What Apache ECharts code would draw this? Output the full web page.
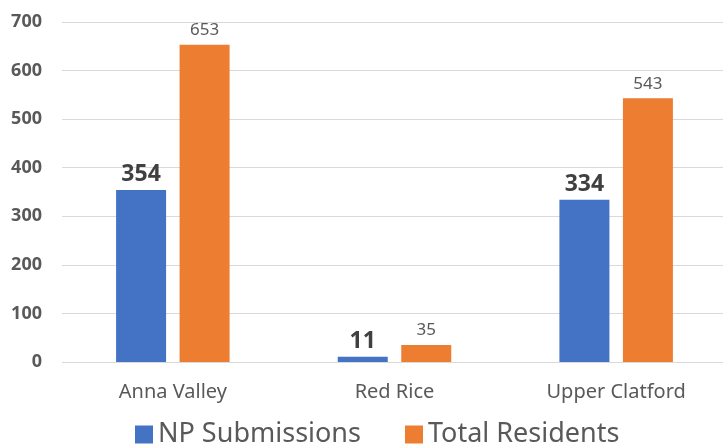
<!DOCTYPE html>
<html>
<head>
<meta charset="utf-8">
<script src="https://cdn.jsdelivr.net/npm/echarts@6/dist/echarts.min.js"></script>
<style>
  html, body { margin: 0; padding: 0; background: #fff; }
  #main { width: 723px; height: 447px; }
</style>
</head>
<body>
<div id="main"></div>
<script>
// 数据
const categories = ['Anna Valley', 'Red Rice', 'Upper Clatford'];
const npSubmissions = [354, 11, 334];
const totalResidents = [653, 35, 543];
const yTicks = [0, 100, 200, 300, 400, 500, 600, 700];

const fontFamily = '"Noto Sans", "Open Sans", sans-serif';

var myChart = echarts.init(document.getElementById('main'));

var option = {
    animation: false,
    textStyle: { fontFamily: fontFamily },
    grid: {
        left: 62,
        right: -4,
        top: 22,
        bottom: 85,
        outerBoundsMode: 'none'
    },
    legend: {
        bottom: -6,
        left: 130,
        itemWidth: 18,
        itemHeight: 18,
        itemGap: 44,
        icon: 'rect',
        textStyle: {
            fontSize: 27,
            color: '#595959',
            fontFamily: fontFamily
        },
        data: ['NP Submissions', 'Total Residents']
    },
    xAxis: {
        type: 'category',
        data: categories,
        axisLine: { show: false },
        axisTick: { show: false },
        axisLabel: {
            color: '#595959',
            fontSize: 20,
            margin: 20
        }
    },
    yAxis: {
        type: 'value',
        min: yTicks[0],
        max: yTicks[yTicks.length - 1],
        interval: 100,
        axisLine: { show: false },
        axisTick: { show: false },
        axisLabel: {
            color: '#595959',
            fontSize: 18,
            fontWeight: 'bold',
            margin: 20
        },
        splitLine: {
            lineStyle: { color: '#d9d9d9', width: 1 }
        }
    },
    series: [
        {
            name: 'NP Submissions',
            type: 'bar',
            data: npSubmissions,
            barWidth: 50,
            barGap: '27%',
            itemStyle: { color: '#4472C4' },
            label: {
                show: true,
                position: 'top',
                distance: 4,
                color: '#404040',
                fontSize: 23,
                fontWeight: 'bold'
            }
        },
        {
            name: 'Total Residents',
            type: 'bar',
            data: totalResidents,
            barWidth: 50,
            itemStyle: { color: '#ED7D31' },
            label: {
                show: true,
                position: 'top',
                distance: 6,
                color: '#595959',
                fontSize: 17
            }
        }
    ]
};

myChart.setOption(option);
</script>
</body>
</html>
